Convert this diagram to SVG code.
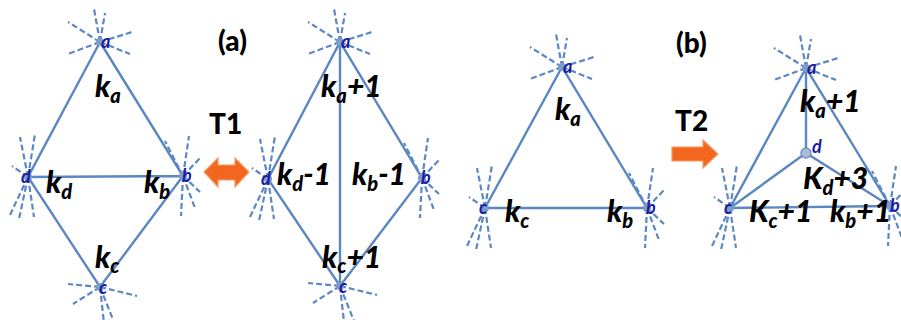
<svg xmlns="http://www.w3.org/2000/svg" xmlns:xlink="http://www.w3.org/1999/xlink" width="901" height="320" viewBox="0 0 901 320">
<style>
.edge{stroke:#5a86c1;stroke-width:2.4;fill:none;stroke-linecap:round}
.ray{stroke:#5b88c4;stroke-width:2.2;stroke-dasharray:6 3;fill:none}
.dot{fill:#7d9dc9}
.nl{font-family:Lato,"Liberation Sans",sans-serif;font-style:italic;font-weight:bold;font-size:18px;fill:#1c1ca0}
.k{font-family:Lato,"Open Sans","Liberation Sans",sans-serif;font-style:italic;font-weight:900;font-size:30px;fill:#000}
.s{font-size:20px}
.t{font-family:Lato,"Open Sans","Liberation Sans",sans-serif;font-weight:900;font-size:28px;fill:#000}
.arr{fill:#f2661f;stroke:#f79a62;stroke-width:1.2}
</style>
<defs>
<g id="starTop"><path class="ray" d="M0 0L-6 -33M0 0L5 -29M0 0L-32 -20M0 0L-32 12M0 0L32 -10M0 0L30 12"/></g>
<g id="starLeft"><path class="ray" d="M0 0L-8 -40M0 0L7 -43M0 0L-16 -11M0 0L-18 38M0 0L-9 42M0 0L6 40"/></g>
<g id="starRight"><path class="ray" d="M0 0L-18 -35M0 0L6 -40M0 0L18 -19M0 0L17 16M0 0L-2 40M0 0L12 32"/></g>
<g id="starBottom"><path class="ray" d="M0 0L-32 -3M0 0L-27 17M0 0L37 9M0 0L14 35M0 0L4 36"/></g>
</defs>
<rect width="901" height="320" fill="#fff"/>

<g id="connectors">
<path class="edge" d="M100 42L28 177L100 287L183 176Z M28 177L183 176"/>
<path class="edge" d="M340 42L268 179L340 286L422 178Z M340 42L340 286"/>
<path class="edge" d="M562 67L485 208L647 208Z"/>
<path class="edge" d="M806 68L730 208L890 206Z M806 68L806 153 M806 153L730 208 M806 153L890 206"/>
</g>

<g id="L-a"><use href="#starTop" x="100" y="42"/><circle class="dot" cx="100" cy="42" r="4"/><text class="nl" x="101" y="48">a</text></g>
<g id="L-d"><use href="#starLeft" x="28" y="177"/><circle class="dot" cx="28" cy="177" r="4"/><text class="nl" x="21" y="183">d</text></g>
<g id="L-b"><use href="#starRight" x="183" y="176"/><circle class="dot" cx="183" cy="176" r="4"/><text class="nl" x="182" y="182">b</text></g>
<g id="L-c"><use href="#starBottom" x="100" y="287"/><circle class="dot" cx="100" cy="287" r="4"/><text class="nl" x="99" y="294">c</text></g>

<g id="M-a"><use href="#starTop" x="340" y="42"/><circle class="dot" cx="340" cy="42" r="4"/><text class="nl" x="341" y="48">a</text></g>
<g id="M-d"><use href="#starLeft" x="268" y="179"/><circle class="dot" cx="268" cy="179" r="4"/><text class="nl" x="261" y="185">d</text></g>
<g id="M-b"><use href="#starRight" x="422" y="178"/><circle class="dot" cx="422" cy="178" r="4"/><text class="nl" x="421" y="184">b</text></g>
<g id="M-c"><use href="#starBottom" x="340" y="286"/><circle class="dot" cx="340" cy="286" r="4"/><text class="nl" x="339" y="293">c</text></g>

<g id="T-a"><use href="#starTop" x="562" y="67"/><circle class="dot" cx="562" cy="67" r="4"/><text class="nl" x="563" y="73">a</text></g>
<g id="T-c"><use href="#starLeft" x="485" y="208"/><circle class="dot" cx="485" cy="208" r="4"/><text class="nl" x="479" y="214">c</text></g>
<g id="T-b"><use href="#starRight" x="647" y="208"/><circle class="dot" cx="647" cy="208" r="4"/><text class="nl" x="646" y="214">b</text></g>

<g id="R-a"><use href="#starTop" x="806" y="68"/><circle class="dot" cx="806" cy="68" r="4"/><text class="nl" x="807" y="74">a</text></g>
<g id="R-d"><circle cx="806" cy="153" r="5" fill="#a9bcd8" stroke="#6f92c4" stroke-width="1.5"/><text class="nl" x="812" y="153">d</text></g>
<g id="R-c"><use href="#starLeft" x="730" y="208"/><circle class="dot" cx="730" cy="208" r="4"/><text class="nl" x="724" y="214">c</text></g>
<g id="R-b"><use href="#starRight" x="890" y="206"/><circle class="dot" cx="890" cy="206" r="4"/><text class="nl" x="890" y="212">b</text></g>

<g id="labels">
<text class="k" x="95" y="97">k<tspan class="s" dy="6">a</tspan></text>
<text class="k" x="46" y="193">k<tspan class="s" dy="6">d</tspan></text>
<text class="k" x="144" y="193">k<tspan class="s" dy="6">b</tspan></text>
<text class="k" x="95" y="268">k<tspan class="s" dy="5">c</tspan></text>

<text class="k" x="321" y="97">k<tspan class="s" dy="6">a</tspan><tspan dy="-6">+1</tspan></text>
<text class="k" x="277" y="185">k<tspan class="s" dy="6">d</tspan><tspan dy="-6">-1</tspan></text>
<text class="k" x="352" y="185">k<tspan class="s" dy="6">b</tspan><tspan dy="-6">-1</tspan></text>
<text class="k" x="322" y="268">k<tspan class="s" dy="5">c</tspan><tspan dy="-5">+1</tspan></text>

<text class="k" x="555" y="120">k<tspan class="s" dy="6">a</tspan></text>
<text class="k" x="505" y="222">k<tspan class="s" dy="6">c</tspan></text>
<text class="k" x="607" y="222">k<tspan class="s" dy="6">b</tspan></text>

<text class="k" x="800" y="112">k<tspan class="s" dy="6">a</tspan><tspan dy="-6">+1</tspan></text>
<text class="k" x="803" y="189">K<tspan class="s" dy="6">d</tspan><tspan dy="-6">+3</tspan></text>
<text class="k" x="749" y="222">K<tspan class="s" dy="6">c</tspan><tspan dy="-6">+1</tspan></text>
<text class="k" x="830" y="222">k<tspan class="s" dy="6">b</tspan><tspan dy="-6">+1</tspan></text>
</g>

<g id="titles">
<text class="t" x="218" y="51" font-size="30">(a)</text>
<text class="t" x="676" y="53" font-size="30">(b)</text>
<text class="t" x="209" y="134">T1</text>
<text class="t" x="675" y="131">T2</text>
</g>

<g id="T1-arrow"><path class="arr" d="M204 172L218 158L218 165L235 165L235 158L249 172L235 187L235 180L218 180L218 187Z"/></g>
<g id="T2-arrow"><path class="arr" d="M672 147L703 147L703 140L718 154L703 168L703 161L672 161Z"/></g>
</svg>
